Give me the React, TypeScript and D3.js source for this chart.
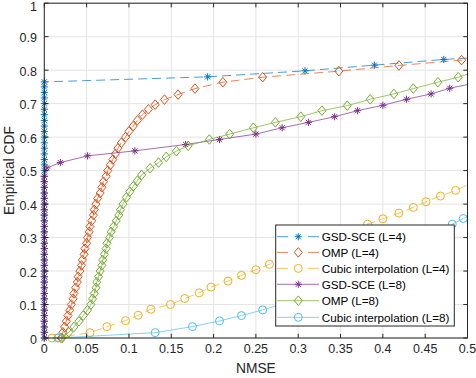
import React from 'react';
import * as d3 from 'd3';

// axis ticks
const xTicks = [0, 0.05, 0.1, 0.15, 0.2, 0.25, 0.3, 0.35, 0.4, 0.45, 0.5];
const yTicks = [0, 0.1, 0.2, 0.3, 0.4, 0.5, 0.6, 0.7, 0.8, 0.9, 1];

// marker levels stacked at NMSE = 0
const gsdL4Stack = [0, 0.017, 0.033, 0.05, 0.067, 0.083, 0.1, 0.117, 0.133, 0.15, 0.167, 0.183, 0.2, 0.217,
  0.233, 0.25, 0.267, 0.283, 0.3, 0.317, 0.333, 0.35, 0.367, 0.383, 0.4, 0.417, 0.433, 0.45, 0.467, 0.483,
  0.5, 0.517, 0.533, 0.55, 0.567, 0.583, 0.6, 0.617, 0.633, 0.65, 0.667, 0.683, 0.7, 0.717, 0.733, 0.75, 0.765];
const gsdL8Stack = [0, 0.017, 0.033, 0.05, 0.067, 0.083, 0.1, 0.117, 0.133, 0.15, 0.167, 0.183, 0.2, 0.217,
  0.233, 0.25, 0.267, 0.283, 0.3, 0.317, 0.333, 0.35, 0.367, 0.383, 0.4, 0.417, 0.433, 0.45, 0.467, 0.483];

const gsdL4: number[][] = [...gsdL4Stack.map(v => [0, v]),
  [0.193, 0.78], [0.308, 0.798], [0.39, 0.815], [0.472, 0.832]];

const ompL4: number[][] = [[0.02, 0], [0.022, 0.017], [0.024, 0.033], [0.026, 0.05], [0.028, 0.067],
  [0.03, 0.083], [0.032, 0.1], [0.034, 0.117], [0.035, 0.133], [0.037, 0.15], [0.039, 0.167], [0.04, 0.183],
  [0.042, 0.2], [0.044, 0.217], [0.045, 0.233], [0.047, 0.25], [0.048, 0.267], [0.05, 0.283], [0.051, 0.3],
  [0.053, 0.317], [0.054, 0.333], [0.056, 0.35], [0.058, 0.367], [0.059, 0.383], [0.061, 0.4], [0.063, 0.417],
  [0.066, 0.433], [0.068, 0.45], [0.07, 0.467], [0.073, 0.483], [0.075, 0.5], [0.078, 0.517], [0.081, 0.533],
  [0.084, 0.55], [0.087, 0.567], [0.091, 0.583], [0.096, 0.6], [0.1, 0.617], [0.105, 0.633], [0.11, 0.65],
  [0.116, 0.667], [0.123, 0.683], [0.131, 0.697], [0.142, 0.712], [0.158, 0.727], [0.178, 0.745],
  [0.211, 0.764], [0.258, 0.779], [0.348, 0.797], [0.419, 0.814], [0.493, 0.83]];

const cubicL4: number[][] = [[0.009, 0], [0.017, 0.001], [0.054, 0.016], [0.074, 0.034], [0.096, 0.052],
  [0.111, 0.068], [0.126, 0.086], [0.149, 0.1], [0.166, 0.118], [0.183, 0.135], [0.197, 0.152], [0.217, 0.17],
  [0.233, 0.187], [0.25, 0.204], [0.266, 0.22], [0.282, 0.237], [0.298, 0.254], [0.314, 0.271], [0.33, 0.288],
  [0.347, 0.305], [0.364, 0.322], [0.382, 0.34], [0.4, 0.356], [0.419, 0.373], [0.436, 0.39], [0.451, 0.407],
  [0.468, 0.424], [0.486, 0.441]];

const gsdL8: number[][] = [...gsdL8Stack.map(v => [0, v]),
  [0.003, 0.508], [0.019, 0.524], [0.051, 0.544], [0.107, 0.559], [0.167, 0.578], [0.207, 0.593],
  [0.25, 0.609], [0.281, 0.628], [0.312, 0.644], [0.343, 0.661], [0.37, 0.679], [0.4, 0.695],
  [0.428, 0.713], [0.457, 0.729], [0.479, 0.746]];

const ompL8: number[][] = [[0.021, 0], [0.029, 0.017], [0.035, 0.033], [0.041, 0.05], [0.046, 0.067],
  [0.051, 0.083], [0.055, 0.1], [0.057, 0.117], [0.059, 0.133], [0.061, 0.15], [0.062, 0.167], [0.064, 0.183],
  [0.066, 0.2], [0.068, 0.217], [0.069, 0.233], [0.071, 0.25], [0.073, 0.267], [0.074, 0.283], [0.077, 0.3],
  [0.079, 0.317], [0.082, 0.333], [0.085, 0.35], [0.088, 0.367], [0.09, 0.383], [0.093, 0.4], [0.097, 0.42],
  [0.101, 0.437], [0.105, 0.453], [0.11, 0.47], [0.115, 0.487], [0.125, 0.507], [0.135, 0.524], [0.144, 0.541],
  [0.156, 0.558], [0.17, 0.574], [0.195, 0.593], [0.219, 0.609], [0.247, 0.628], [0.273, 0.644], [0.303, 0.661],
  [0.328, 0.679], [0.358, 0.694], [0.385, 0.713], [0.413, 0.729], [0.436, 0.745], [0.465, 0.764], [0.489, 0.779]];

const cubicL8: number[][] = [[0.016, 0], [0.131, 0.016], [0.175, 0.034], [0.207, 0.051], [0.233, 0.067],
  [0.258, 0.084], [0.281, 0.101], [0.302, 0.118], [0.322, 0.135], [0.341, 0.152], [0.358, 0.169],
  [0.374, 0.186], [0.389, 0.203], [0.404, 0.22], [0.418, 0.237], [0.431, 0.254], [0.444, 0.271],
  [0.455, 0.288], [0.465, 0.305], [0.474, 0.322], [0.482, 0.34], [0.495, 0.357]];

// value where each curve leaves the axes at NMSE = 0.5
const endValues = [0.836, 0.832, 0.457, 0.757, 0.788, 0.362];

const labels = ['GSD-SCE (L=4)', 'OMP (L=4)', 'Cubic interpolation (L=4)',
  'GSD-SCE (L=8)', 'OMP (L=8)', 'Cubic interpolation (L=8)'];
const colors = ['#0072BD', '#D95319', '#EDB120', '#7E2F8E', '#77AC30', '#4DBEEE'];
const markers = ['star', 'diamond', 'circle', 'star', 'diamond', 'circle'];
const dashed = [true, true, true, false, false, false];
const allData = [gsdL4, ompL4, cubicL4, gsdL8, ompL8, cubicL8];

const W = 476, H = 378;
const left = 44.3, right = 467.5, top = 3.2, bottom = 338;
const font = '"Liberation Sans", Arial, Helvetica, sans-serif';
const ink = '#262626';

function Marker({ kind, x, y, color }: { kind: string; x: number; y: number; color: string }) {
  if (kind === 'circle') {
    return <circle cx={x} cy={y} r={4} fill="none" stroke={color} strokeWidth={1} />;
  }
  if (kind === 'diamond') {
    return <path d={`M${x},${y - 4.8}L${x + 4},${y}L${x},${y + 4.8}L${x - 4},${y}Z`}
      fill="none" stroke={color} strokeWidth={1} />;
  }
  const s = 3.6, a = s * 0.707;
  return <path d={`M${x - s},${y}H${x + s}M${x},${y - s}V${y + s}M${x - a},${y - a}L${x + a},${y + a}M${x - a},${y + a}L${x + a},${y - a}`}
    stroke={color} strokeWidth={1} fill="none" />;
}

export default function App() {
  const x = d3.scaleLinear().domain([0, 0.5]).range([left, right]);
  const y = d3.scaleLinear().domain([0, 1]).range([bottom, top]);
  const line = d3.line<number[]>().x(d => x(d[0])).y(d => y(d[1]));

  const lgX = 275.7, lgY = 225, lgW = 178.6, lgH = 101;
  const rowY = [236.7, 252.4, 268.4, 284.3, 300.7, 317.3];

  return (
    <svg width={W} height={H} style={{ position: 'absolute', left: 0, top: 0, background: '#fff' }}
      fontFamily={font}>
      <rect x={0} y={0} width={W} height={H} fill="#fff" />
      {/* grid */}
      {xTicks.map(t => <line key={'gx' + t} x1={x(t)} x2={x(t)} y1={top} y2={bottom} stroke="#e4e4e4" strokeWidth={1} />)}
      {yTicks.map(t => <line key={'gy' + t} x1={left} x2={right} y1={y(t)} y2={y(t)} stroke="#e4e4e4" strokeWidth={1} />)}

      {/* curves */}
      {allData.map((pts, i) => (
        <g key={'s' + i}>
          <path d={line([...pts, [0.5, endValues[i]]]) || ''} fill="none" stroke={colors[i]} strokeWidth={0.7}
            strokeDasharray={dashed[i] ? '9,5' : undefined} />
          {pts.map((p, j) => <Marker key={j} kind={markers[i]} x={x(p[0])} y={y(p[1])} color={colors[i]} />)}
        </g>
      ))}

      {/* axes box and ticks */}
      <rect x={left} y={top} width={right - left} height={bottom - top} fill="none" stroke={ink} strokeWidth={1} />
      {xTicks.map(t => (
        <g key={'tx' + t}>
          <line x1={x(t)} x2={x(t)} y1={bottom} y2={bottom - 4.2} stroke={ink} />
          <line x1={x(t)} x2={x(t)} y1={top} y2={top + 4.2} stroke={ink} />
          <text x={x(t)} y={352.8} fontSize={12.5} fill={ink} textAnchor="middle">{String(t)}</text>
        </g>
      ))}
      {yTicks.map(t => (
        <g key={'ty' + t}>
          <line x1={left} x2={left + 4.2} y1={y(t)} y2={y(t)} stroke={ink} />
          <line x1={right} x2={right - 4.2} y1={y(t)} y2={y(t)} stroke={ink} />
          <text x={37} y={Math.max(y(t) + 5.5, 11.3)} fontSize={12.5} fill={ink} textAnchor="end">{String(t)}</text>
        </g>
      ))}
      <text x={(left + right) / 2} y={373.3} fontSize={13.8} fill={ink} textAnchor="middle">NMSE</text>
      <text transform={`translate(14,${(top + bottom) / 2}) rotate(-90)`} fontSize={13.8} fill={ink}
        textAnchor="middle">Empirical CDF</text>

      {/* legend */}
      <rect x={lgX} y={lgY} width={lgW} height={lgH} fill="#fff" stroke={ink} strokeWidth={1} />
      {labels.map((lab, i) => (
        <g key={'lg' + i}>
          <line x1={277} x2={319} y1={rowY[i]} y2={rowY[i]} stroke={colors[i]} strokeWidth={0.7}
            strokeDasharray={dashed[i] ? '11,20' : undefined} />
          <Marker kind={markers[i]} x={298.3} y={rowY[i]} color={colors[i]} />
          <text x={321.7} y={rowY[i] + 4.2} fontSize={11.7} fill="#000">{lab}</text>
        </g>
      ))}
    </svg>
  );
}
